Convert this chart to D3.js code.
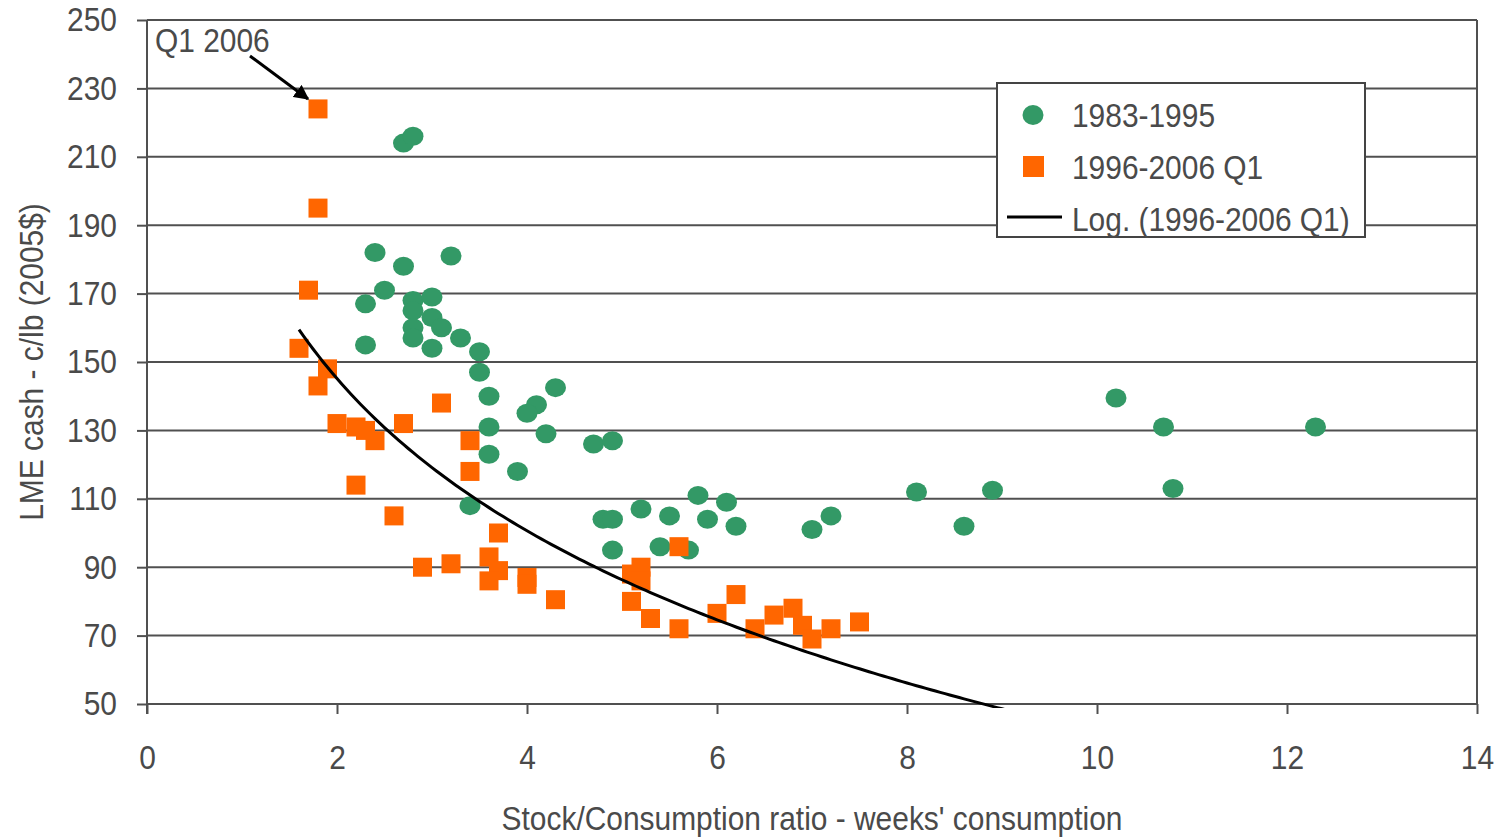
<!DOCTYPE html>
<html>
<head>
<meta charset="utf-8">
<script src="https://cdn.jsdelivr.net/npm/d3@7"></script>
<style>
  body { margin: 0; background: #fff; }
  svg text { font-family: "Liberation Sans", Arial, sans-serif; fill: #4a4a4a; font-size: 34px; }
</style>
</head>
<body>
<svg id="chart" width="1508" height="840"></svg>
<script>
// 1983-1995 (green circles): [stock/consumption weeks, LME cash c/lb]
const early = [
  [2.7, 214], [2.8, 216], [2.4, 182], [2.7, 178], [3.2, 181], [2.5, 171],
  [2.3, 167], [2.8, 168], [3.0, 169], [2.8, 165], [3.0, 163], [3.1, 160],
  [2.8, 160], [2.8, 157], [3.3, 157], [2.3, 155], [3.0, 154], [3.5, 153],
  [3.5, 147], [3.6, 140], [4.3, 142.5], [4.1, 137.5], [4.0, 135], [4.2, 129],
  [3.6, 131], [3.6, 123], [3.9, 118], [4.7, 126], [4.9, 127], [3.4, 108],
  [4.8, 104], [4.9, 104], [4.9, 95], [5.2, 107], [5.5, 105], [5.4, 96],
  [5.7, 95], [5.8, 111], [5.9, 104], [6.1, 109], [6.2, 102], [7.0, 101],
  [7.2, 105], [8.1, 112], [8.6, 102], [8.9, 112.5], [10.2, 139.5],
  [10.7, 131], [10.8, 113], [12.3, 131]
];

// 1996-2006 Q1 (orange squares)
const late = [
  [1.8, 224], [1.8, 195], [1.7, 171], [1.6, 154], [1.9, 148], [1.8, 143],
  [2.0, 132], [2.2, 131], [2.3, 130], [2.4, 127], [2.7, 132], [3.1, 138],
  [3.4, 127], [3.4, 118], [2.2, 114], [2.6, 105], [3.7, 100], [2.9, 90],
  [3.2, 91], [3.6, 93], [3.7, 89], [3.6, 86], [4.0, 87], [4.0, 85],
  [4.3, 80.5], [5.1, 88], [5.2, 90], [5.2, 86], [5.1, 80], [5.3, 75],
  [5.6, 96], [5.6, 72], [6.0, 76.5], [6.2, 82], [6.4, 72], [6.6, 76],
  [6.8, 78], [6.9, 73], [7.0, 69], [7.2, 72], [7.5, 74]
];

const xTicks = [0, 2, 4, 6, 8, 10, 12, 14];
const yTicks = [50, 70, 90, 110, 130, 150, 170, 190, 210, 230, 250];
const legendLabels = ["1983-1995", "1996-2006 Q1", "Log. (1996-2006 Q1)"];

const green = "#339966";
const orange = "#ff6600";
const gridColor = "#505050";
const narrowScale = 0.88; // squeeze Liberation Sans to look like a narrow face

const svg = d3.select("#chart");
const plotLeft = 147, plotRight = 1477, plotTop = 20, plotBottom = 704;

const x = d3.scaleLinear().domain([0, 14]).range([plotLeft, plotRight]);
const y = d3.scaleLinear().domain([50, 250]).range([plotBottom, plotTop]);

// compress text horizontally while keeping its anchor point
function narrow(sel) {
  sel.each(function() {
    const t = d3.select(this);
    const tx = +(t.attr("x") || 0);
    const prev = t.attr("transform") || "";
    t.attr("x", tx / narrowScale)
      .attr("transform", `${prev} scale(${narrowScale},1)`);
  });
}

// Gridlines
svg.append("g")
  .selectAll("line")
  .data(yTicks)
  .join("line")
  .attr("x1", plotLeft).attr("x2", plotRight)
  .attr("y1", d => y(d)).attr("y2", d => y(d))
  .attr("stroke", gridColor)
  .attr("stroke-width", 2);

// Right border
svg.append("line")
  .attr("x1", plotRight).attr("x2", plotRight)
  .attr("y1", plotTop).attr("y2", plotBottom)
  .attr("stroke", gridColor).attr("stroke-width", 2);

// Y axis
const yAxis = svg.append("g")
  .attr("transform", `translate(${plotLeft},0)`)
  .call(d3.axisLeft(y).tickValues(yTicks).tickSize(10).tickPadding(20));
yAxis.attr("font-size", null).attr("font-family", null);
yAxis.select(".domain").attr("stroke", gridColor).attr("stroke-width", 2)
  .attr("d", `M0,${plotTop}V${plotBottom + 10}`);
yAxis.selectAll(".tick line").attr("stroke", gridColor).attr("stroke-width", 2);
yAxis.selectAll("text").attr("fill", null).call(narrow);

// X axis
const xAxis = svg.append("g")
  .attr("transform", `translate(0,${plotBottom})`)
  .call(d3.axisBottom(x).tickValues(xTicks).tickSize(10).tickPadding(31));
xAxis.attr("font-size", null).attr("font-family", null);
xAxis.select(".domain").attr("stroke", gridColor).attr("stroke-width", 2)
  .attr("d", `M${plotLeft},0H${plotRight}`);
xAxis.selectAll(".tick line").attr("stroke", gridColor).attr("stroke-width", 2);
xAxis.selectAll("text").attr("fill", null).call(narrow);

// Axis titles
svg.append("text")
  .attr("transform", `translate(43,${(plotTop + plotBottom) / 2}) rotate(-90)`)
  .attr("text-anchor", "middle")
  .text("LME cash - c/lb (2005$)")
  .call(narrow);

svg.append("text")
  .attr("x", (plotLeft + plotRight) / 2)
  .attr("y", 830)
  .attr("text-anchor", "middle")
  .text("Stock/Consumption ratio - weeks' consumption")
  .call(narrow);

// Log trendline fitted to the 1996-2006 Q1 points (least squares on ln x)
const lnX = late.map(d => Math.log(d[0]));
const mL = d3.mean(lnX), mY = d3.mean(late, d => d[1]);
const slope = d3.sum(late, (d, i) => (lnX[i] - mL) * (d[1] - mY)) /
  d3.sum(lnX, v => (v - mL) * (v - mL));
const intercept = mY - slope * mL;
const trendXs = d3.range(d3.min(late, d => d[0]), 9.6, 0.05);

svg.append("clipPath").attr("id", "plot-clip")
  .append("rect")
  .attr("x", plotLeft).attr("y", plotTop)
  .attr("width", plotRight - plotLeft).attr("height", plotBottom - plotTop + 4);

// Markers
svg.append("g")
  .selectAll("ellipse")
  .data(early)
  .join("ellipse")
  .attr("cx", d => x(d[0]))
  .attr("cy", d => y(d[1]))
  .attr("rx", 10.5).attr("ry", 9.5)
  .attr("fill", green);

svg.append("g")
  .selectAll("rect")
  .data(late)
  .join("rect")
  .attr("x", d => x(d[0]) - 9.5)
  .attr("y", d => y(d[1]) - 9.5)
  .attr("width", 19).attr("height", 19)
  .attr("fill", orange);

svg.append("path")
  .datum(trendXs)
  .attr("clip-path", "url(#plot-clip)")
  .attr("fill", "none")
  .attr("stroke", "#000")
  .attr("stroke-width", 3)
  .attr("d", d3.line()
    .x(d => x(d))
    .y(d => y(slope * Math.log(d) + intercept)));

// Annotation
svg.append("defs").append("marker")
  .attr("id", "arrow")
  .attr("viewBox", "0 0 10 10")
  .attr("refX", 9).attr("refY", 5)
  .attr("markerWidth", 5).attr("markerHeight", 5)
  .attr("orient", "auto")
  .append("path")
  .attr("d", "M0,0L10,5L0,10z")
  .attr("fill", "#000");

svg.append("text")
  .attr("x", 155).attr("y", 52)
  .text("Q1 2006")
  .call(narrow);

svg.append("line")
  .attr("x1", 250).attr("y1", 56)
  .attr("x2", x(late[0][0]) - 10).attr("y2", y(late[0][1]) - 10)
  .attr("stroke", "#000")
  .attr("stroke-width", 3)
  .attr("marker-end", "url(#arrow)");

// Legend
const legend = svg.append("g");
legend.append("rect")
  .attr("x", 997).attr("y", 83)
  .attr("width", 368).attr("height", 154)
  .attr("fill", "#fff")
  .attr("stroke", "#444")
  .attr("stroke-width", 2);

legend.append("ellipse")
  .attr("cx", 1033).attr("cy", 115)
  .attr("rx", 10.5).attr("ry", 10)
  .attr("fill", green);
legend.append("rect")
  .attr("x", 1023).attr("y", 156)
  .attr("width", 21).attr("height", 21)
  .attr("fill", orange);
legend.append("line")
  .attr("x1", 1007).attr("x2", 1062)
  .attr("y1", 217).attr("y2", 217)
  .attr("stroke", "#000").attr("stroke-width", 3);

legend.selectAll("text")
  .data(legendLabels)
  .join("text")
  .attr("x", 1072)
  .attr("y", (d, i) => 127 + i * 52)
  .text(d => d)
  .call(narrow);
</script>
</body>
</html>
